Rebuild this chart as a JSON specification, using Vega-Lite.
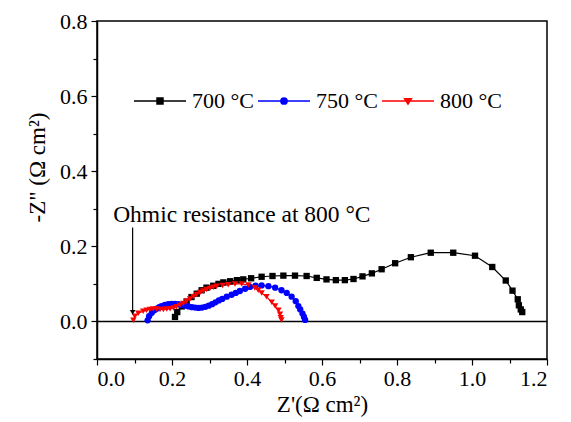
{
  "$schema": "https://vega.github.io/schema/vega-lite/v6.json",
  "width": 450,
  "height": 338,
  "autosize": {"type": "none"},
  "padding": {"left": 97, "top": 21, "right": 24, "bottom": 63},
  "background": "white",
  "config": {
    "view": {"stroke": "black", "strokeWidth": 1.5},
    "axis": {"grid": false, "labelFont": "Liberation Serif", "titleFont": "Liberation Serif", "labelColor": "black", "titleColor": "black", "domainColor": "black", "tickColor": "black", "labelFontSize": 22, "titleFontSize": 23, "titleFontWeight": "normal", "domainWidth": 1.5, "tickWidth": 1.2}
  },
  "datasets": {
    "eis": [
      {"series": "700 °C", "x": 0.208, "y": 0.012},
      {"series": "700 °C", "x": 0.214, "y": 0.025},
      {"series": "700 °C", "x": 0.226, "y": 0.040},
      {"series": "700 °C", "x": 0.239, "y": 0.053},
      {"series": "700 °C", "x": 0.252, "y": 0.065},
      {"series": "700 °C", "x": 0.266, "y": 0.074},
      {"series": "700 °C", "x": 0.279, "y": 0.083},
      {"series": "700 °C", "x": 0.292, "y": 0.090},
      {"series": "700 °C", "x": 0.310, "y": 0.095},
      {"series": "700 °C", "x": 0.324, "y": 0.100},
      {"series": "700 °C", "x": 0.337, "y": 0.104},
      {"series": "700 °C", "x": 0.355, "y": 0.107},
      {"series": "700 °C", "x": 0.373, "y": 0.110},
      {"series": "700 °C", "x": 0.390, "y": 0.112},
      {"series": "700 °C", "x": 0.411, "y": 0.115},
      {"series": "700 °C", "x": 0.439, "y": 0.119},
      {"series": "700 °C", "x": 0.468, "y": 0.121},
      {"series": "700 °C", "x": 0.497, "y": 0.122},
      {"series": "700 °C", "x": 0.528, "y": 0.122},
      {"series": "700 °C", "x": 0.559, "y": 0.121},
      {"series": "700 °C", "x": 0.586, "y": 0.116},
      {"series": "700 °C", "x": 0.612, "y": 0.112},
      {"series": "700 °C", "x": 0.637, "y": 0.110},
      {"series": "700 °C", "x": 0.661, "y": 0.110},
      {"series": "700 °C", "x": 0.684, "y": 0.113},
      {"series": "700 °C", "x": 0.708, "y": 0.120},
      {"series": "700 °C", "x": 0.733, "y": 0.128},
      {"series": "700 °C", "x": 0.759, "y": 0.139},
      {"series": "700 °C", "x": 0.795, "y": 0.155},
      {"series": "700 °C", "x": 0.837, "y": 0.171},
      {"series": "700 °C", "x": 0.890, "y": 0.183},
      {"series": "700 °C", "x": 0.950, "y": 0.183},
      {"series": "700 °C", "x": 1.008, "y": 0.175},
      {"series": "700 °C", "x": 1.054, "y": 0.145},
      {"series": "700 °C", "x": 1.090, "y": 0.109},
      {"series": "700 °C", "x": 1.108, "y": 0.082},
      {"series": "700 °C", "x": 1.122, "y": 0.059},
      {"series": "700 °C", "x": 1.125, "y": 0.043},
      {"series": "700 °C", "x": 1.130, "y": 0.032},
      {"series": "700 °C", "x": 1.134, "y": 0.025},
      {"series": "750 °C", "x": 0.135, "y": 0.003},
      {"series": "750 °C", "x": 0.139, "y": 0.014},
      {"series": "750 °C", "x": 0.146, "y": 0.023},
      {"series": "750 °C", "x": 0.153, "y": 0.030},
      {"series": "750 °C", "x": 0.159, "y": 0.034},
      {"series": "750 °C", "x": 0.166, "y": 0.038},
      {"series": "750 °C", "x": 0.172, "y": 0.041},
      {"series": "750 °C", "x": 0.181, "y": 0.044},
      {"series": "750 °C", "x": 0.190, "y": 0.046},
      {"series": "750 °C", "x": 0.199, "y": 0.047},
      {"series": "750 °C", "x": 0.208, "y": 0.047},
      {"series": "750 °C", "x": 0.217, "y": 0.046},
      {"series": "750 °C", "x": 0.226, "y": 0.044},
      {"series": "750 °C", "x": 0.235, "y": 0.042},
      {"series": "750 °C", "x": 0.244, "y": 0.040},
      {"series": "750 °C", "x": 0.253, "y": 0.038},
      {"series": "750 °C", "x": 0.262, "y": 0.037},
      {"series": "750 °C", "x": 0.271, "y": 0.036},
      {"series": "750 °C", "x": 0.280, "y": 0.037},
      {"series": "750 °C", "x": 0.289, "y": 0.039},
      {"series": "750 °C", "x": 0.298, "y": 0.042},
      {"series": "750 °C", "x": 0.307, "y": 0.046},
      {"series": "750 °C", "x": 0.316, "y": 0.051},
      {"series": "750 °C", "x": 0.325, "y": 0.056},
      {"series": "750 °C", "x": 0.334, "y": 0.060},
      {"series": "750 °C", "x": 0.346, "y": 0.066},
      {"series": "750 °C", "x": 0.359, "y": 0.071},
      {"series": "750 °C", "x": 0.370, "y": 0.076},
      {"series": "750 °C", "x": 0.381, "y": 0.081},
      {"series": "750 °C", "x": 0.395, "y": 0.087},
      {"series": "750 °C", "x": 0.408, "y": 0.092},
      {"series": "750 °C", "x": 0.423, "y": 0.095},
      {"series": "750 °C", "x": 0.439, "y": 0.096},
      {"series": "750 °C", "x": 0.457, "y": 0.094},
      {"series": "750 °C", "x": 0.475, "y": 0.090},
      {"series": "750 °C", "x": 0.492, "y": 0.083},
      {"series": "750 °C", "x": 0.506, "y": 0.076},
      {"series": "750 °C", "x": 0.519, "y": 0.066},
      {"series": "750 °C", "x": 0.530, "y": 0.054},
      {"series": "750 °C", "x": 0.537, "y": 0.041},
      {"series": "750 °C", "x": 0.542, "y": 0.032},
      {"series": "750 °C", "x": 0.548, "y": 0.021},
      {"series": "750 °C", "x": 0.552, "y": 0.012},
      {"series": "750 °C", "x": 0.555, "y": 0.004},
      {"series": "800 °C", "x": 0.097, "y": 0.003},
      {"series": "800 °C", "x": 0.101, "y": 0.014},
      {"series": "800 °C", "x": 0.110, "y": 0.022},
      {"series": "800 °C", "x": 0.123, "y": 0.027},
      {"series": "800 °C", "x": 0.132, "y": 0.030},
      {"series": "800 °C", "x": 0.141, "y": 0.032},
      {"series": "800 °C", "x": 0.150, "y": 0.033},
      {"series": "800 °C", "x": 0.159, "y": 0.033},
      {"series": "800 °C", "x": 0.168, "y": 0.032},
      {"series": "800 °C", "x": 0.177, "y": 0.032},
      {"series": "800 °C", "x": 0.186, "y": 0.033},
      {"series": "800 °C", "x": 0.195, "y": 0.034},
      {"series": "800 °C", "x": 0.204, "y": 0.036},
      {"series": "800 °C", "x": 0.212, "y": 0.039},
      {"series": "800 °C", "x": 0.221, "y": 0.043},
      {"series": "800 °C", "x": 0.230, "y": 0.048},
      {"series": "800 °C", "x": 0.239, "y": 0.054},
      {"series": "800 °C", "x": 0.248, "y": 0.060},
      {"series": "800 °C", "x": 0.257, "y": 0.066},
      {"series": "800 °C", "x": 0.266, "y": 0.072},
      {"series": "800 °C", "x": 0.275, "y": 0.077},
      {"series": "800 °C", "x": 0.283, "y": 0.081},
      {"series": "800 °C", "x": 0.292, "y": 0.085},
      {"series": "800 °C", "x": 0.301, "y": 0.088},
      {"series": "800 °C", "x": 0.310, "y": 0.091},
      {"series": "800 °C", "x": 0.319, "y": 0.094},
      {"series": "800 °C", "x": 0.335, "y": 0.096},
      {"series": "800 °C", "x": 0.350, "y": 0.098},
      {"series": "800 °C", "x": 0.368, "y": 0.100},
      {"series": "800 °C", "x": 0.386, "y": 0.100},
      {"series": "800 °C", "x": 0.404, "y": 0.097},
      {"series": "800 °C", "x": 0.421, "y": 0.089},
      {"series": "800 °C", "x": 0.430, "y": 0.083},
      {"series": "800 °C", "x": 0.439, "y": 0.076},
      {"series": "800 °C", "x": 0.452, "y": 0.066},
      {"series": "800 °C", "x": 0.466, "y": 0.051},
      {"series": "800 °C", "x": 0.475, "y": 0.041},
      {"series": "800 °C", "x": 0.484, "y": 0.030},
      {"series": "800 °C", "x": 0.488, "y": 0.019},
      {"series": "800 °C", "x": 0.490, "y": 0.010},
      {"series": "800 °C", "x": 0.492, "y": 0.004}
    ]
  },
  "resolve": {"axis": {"x": "independent", "y": "independent"}, "legend": {"color": "independent", "shape": "independent"}},
  "layer": [
    {
      "data": {"values": [{"y": 0}]},
      "mark": {"type": "rule", "color": "black", "strokeWidth": 1.5},
      "encoding": {
        "y": {"field": "y", "type": "quantitative", "axis": null}
      }
    },
    {
      "data": {"name": "eis"},
      "mark": {"type": "line", "strokeWidth": 1.2},
      "encoding": {
        "x": {"field": "x", "type": "quantitative", "scale": {"domain": [0, 1.2], "nice": false, "zero": false},
              "axis": {"title": "Z'(Ω cm²)", "values": [0, 0.2, 0.4, 0.6, 0.8, 1.0, 1.2], "format": ".1f", "tickSize": 6, "labelPadding": 3, "titlePadding": 4, "orient": "bottom"}},
        "y": {"field": "y", "type": "quantitative", "scale": {"domain": [-0.1, 0.8], "nice": false, "zero": false},
              "axis": {"title": "-Z\" (Ω cm²)", "values": [0, 0.2, 0.4, 0.6, 0.8], "format": ".1f", "tickSize": 6, "labelPadding": 4, "titlePadding": 10, "titleY": 146, "orient": "left"}},
        "color": {"field": "series", "type": "nominal",
                  "scale": {"domain": ["700 °C", "750 °C", "800 °C"], "range": ["#000000", "#0000ff", "#ff0000"]},
                  "legend": {"orient": "none", "legendX": 36, "legendY": 53, "direction": "horizontal", "columns": 3, "title": null, "padding": 0,
                             "labelFont": "Liberation Serif", "labelFontSize": 22, "labelColor": "black", "labelOffset": 5, "columnPadding": 1,
                             "symbolSize": 2704, "symbolStrokeWidth": 1.5,
                             "encode": {"symbols": {"update": {
                               "shape": {"signal": "datum.value === '700 °C' ? 'M-1,0H1M-0.115,-0.115H0.115V0.115H-0.115Z' : datum.value === '750 °C' ? 'M-1,0H1M-0.12,0A0.12,0.12 0 1,0 0.12,0A0.12,0.12 0 1,0 -0.12,0Z' : 'M-1,0H1M-0.13,-0.09H0.13L0,0.12Z'"},
                               "fill": {"signal": "datum.value === '700 °C' ? '#000000' : datum.value === '750 °C' ? '#0000ff' : '#ff0000'"},
                               "stroke": {"signal": "datum.value === '700 °C' ? '#000000' : datum.value === '750 °C' ? '#0000ff' : '#ff0000'"},
                               "opacity": {"value": 1}
                             }}}}}
      }
    },
    {
      "data": {"name": "eis"},
      "mark": {"type": "point", "filled": true, "opacity": 1, "size": 40},
      "encoding": {
        "x": {"field": "x", "type": "quantitative",
              "axis": {"title": null, "values": [0.1, 0.3, 0.5, 0.7, 0.9, 1.1], "labels": false, "domain": false, "tickSize": 4, "orient": "bottom"}},
        "y": {"field": "y", "type": "quantitative",
              "axis": {"title": null, "values": [-0.1, 0.1, 0.3, 0.5, 0.7], "labels": false, "domain": false, "tickSize": 4, "orient": "left"}},
        "color": {"field": "series", "type": "nominal", "legend": null},
        "shape": {"field": "series", "type": "nominal",
                  "scale": {"domain": ["700 °C", "750 °C", "800 °C"], "range": ["square", "circle", "triangle-down"]},
                  "legend": null}
      }
    },
    {
      "data": {"values": [{"x": 0.095, "y": 0.25, "y2": 0.03}]},
      "mark": {"type": "rule", "color": "black", "strokeWidth": 1.2},
      "encoding": {
        "x": {"field": "x", "type": "quantitative", "axis": null},
        "y": {"field": "y", "type": "quantitative", "axis": null},
        "y2": {"field": "y2"}
      }
    },
    {
      "data": {"values": [{"x": 0.095, "y": 0.024}]},
      "mark": {"type": "point", "shape": "triangle-down", "filled": true, "color": "black", "opacity": 1, "size": 30},
      "encoding": {
        "x": {"field": "x", "type": "quantitative", "axis": null},
        "y": {"field": "y", "type": "quantitative", "axis": null}
      }
    },
    {
      "data": {"values": [{"x": 0.043, "y": 0.266, "label": "Ohmic resistance at 800 °C"}]},
      "mark": {"type": "text", "align": "left", "baseline": "alphabetic", "font": "Liberation Serif", "fontSize": 23.5, "color": "black"},
      "encoding": {
        "x": {"field": "x", "type": "quantitative", "axis": null},
        "y": {"field": "y", "type": "quantitative", "axis": null},
        "text": {"field": "label"}
      }
    }
  ]
}
